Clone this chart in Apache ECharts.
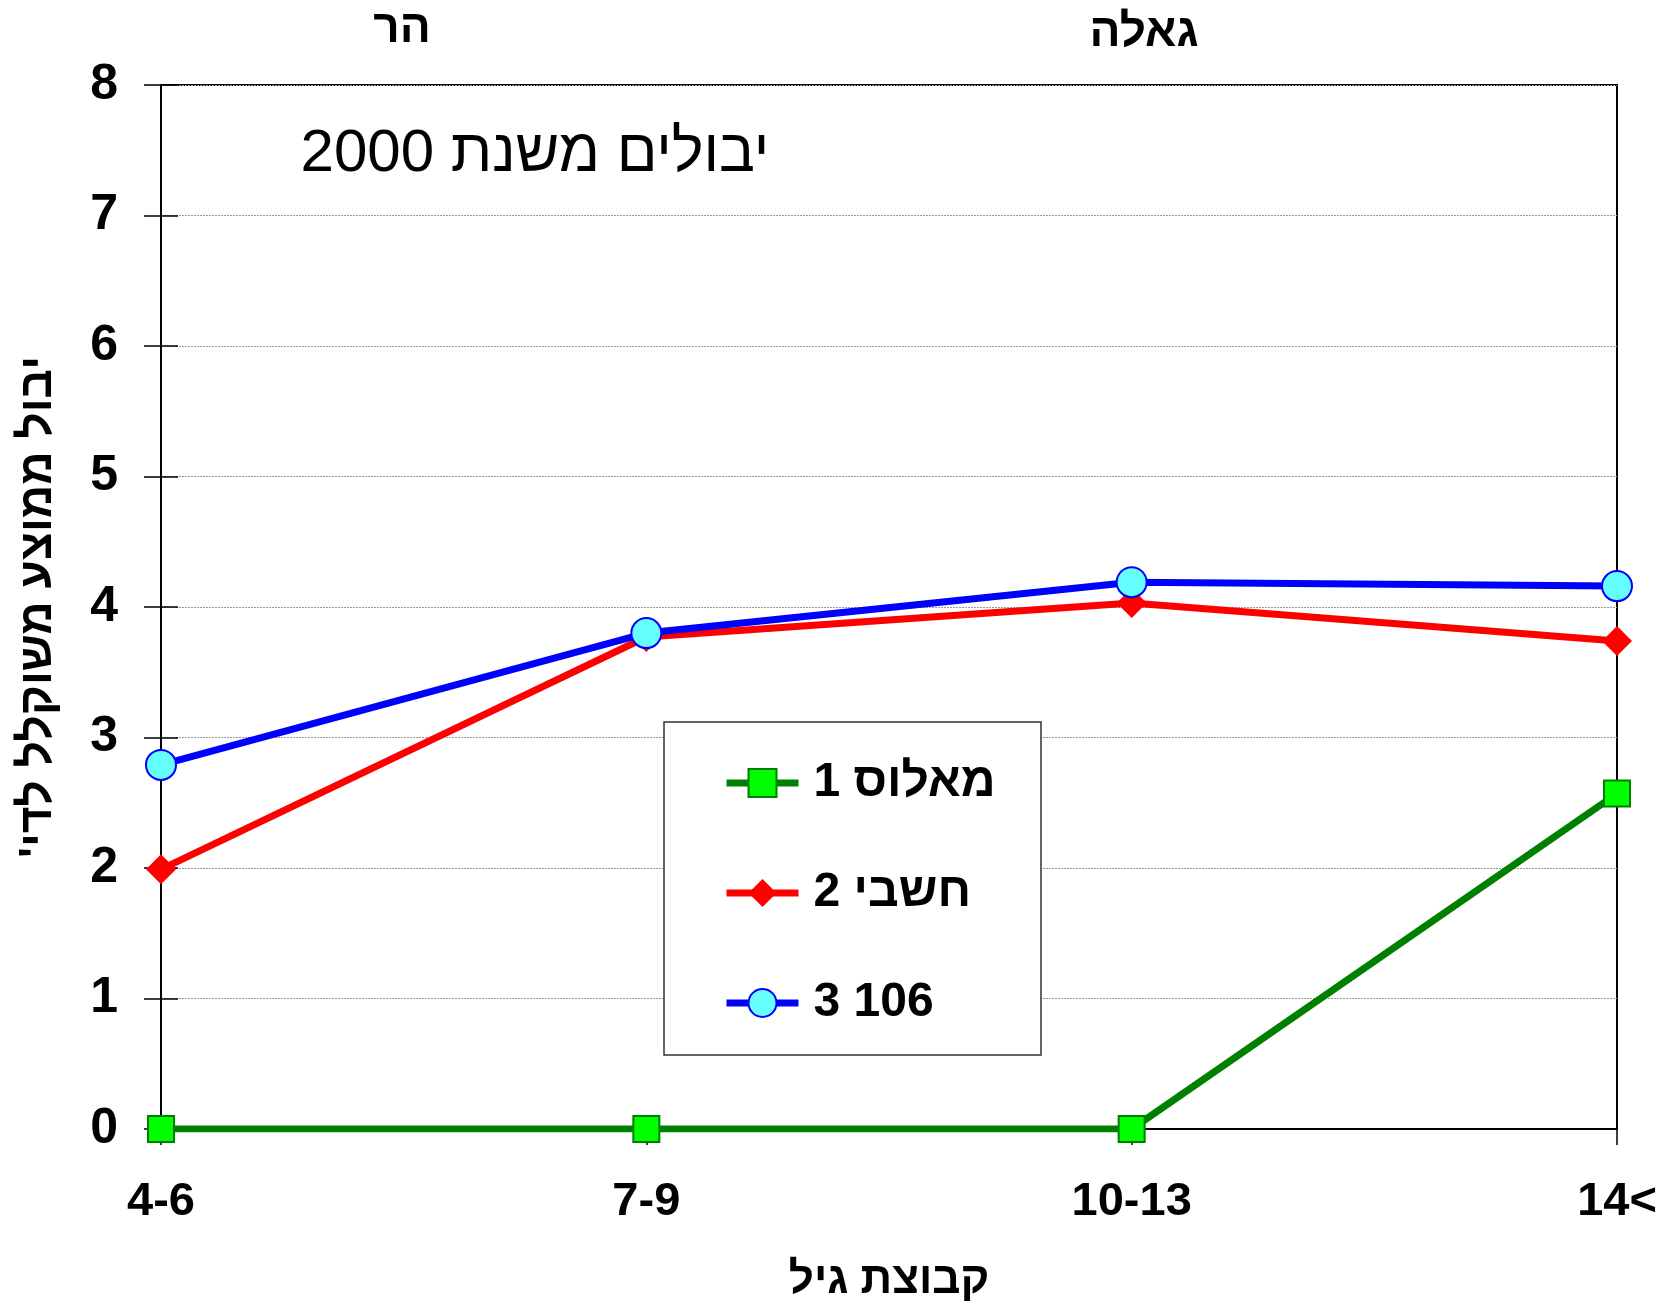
<!DOCTYPE html>
<html>
<head>
<meta charset="utf-8">
<title>יבולים משנת 2000</title>
<style>
  html, body { margin: 0; padding: 0; background: #fff; }
  #chart { width: 1669px; height: 1307px; }
</style>
</head>
<body>
<div id="chart"></div>
<script src="https://cdn.jsdelivr.net/npm/echarts@6/dist/echarts.min.js"></script>
<script>
  // age groups on the x axis
  var ageGroups = ['4-6', '7-9', '10-13', '14<'];
  // mean weighted yield per dunam
  var malosValues = [0, 0, 0, 2.57];
  var hashbiValues = [1.99, 3.77, 4.03, 3.74];
  var v106Values = [2.79, 3.80, 4.19, 4.16];
  var seriesNames = ['מאלוס 1', 'חשבי 2', '3 106'];

  var fontFam = "'Liberation Sans', Arial, 'DejaVu Sans', sans-serif";

  var myChart = echarts.init(document.getElementById('chart'));
  var option = {
    backgroundColor: '#fff',
    animation: false,
    textStyle: { fontFamily: fontFam },
    grid: {
      left: 161, right: 52, top: 85, bottom: 178,
      outerBoundsMode: 'none',
      show: true, borderColor: '#000', borderWidth: 2, backgroundColor: 'transparent'
    },
    legend: {
      orient: 'vertical',
      left: 723,
      top: 759,
      padding: 0,
      z: 10,
      itemWidth: 72,
      itemHeight: 35,
      itemGap: 62,
      data: seriesNames,
      lineStyle: { width: 7 },
      textStyle: {
        fontFamily: fontFam, fontSize: 48, fontWeight: 'bold', color: '#000',
        padding: [0, 0, 0, 10]
      }
    },
    xAxis: {
      type: 'category',
      data: ageGroups,
      boundaryGap: false,
      name: 'קבוצת גיל',
      nameLocation: 'middle',
      nameGap: 130,
      nameTextStyle: { fontFamily: fontFam, fontSize: 44, fontWeight: 'bold', color: '#000' },
      axisLine: { lineStyle: { color: '#000', width: 2 } },
      axisTick: { length: 16, lineStyle: { color: '#000', width: 1.5 } },
      axisLabel: { margin: 50, fontFamily: fontFam, fontSize: 47, fontWeight: 'bold', color: '#000' },
      splitLine: { show: false }
    },
    yAxis: [
      {
        type: 'value',
        position: 'left',
        min: 0,
        max: 8,
        interval: 1,
        name: 'יבול ממוצע משוקלל לדי\'\u200F',
        nameLocation: 'middle',
        nameRotate: 90,
        nameGap: 100,
        nameTextStyle: { fontFamily: fontFam, fontSize: 46, fontWeight: 'bold', color: '#000' },
        axisLine: { show: true, lineStyle: { color: '#000', width: 2 } },
        axisTick: { show: true, length: 17, lineStyle: { color: '#000', width: 1.5 } },
        axisLabel: { margin: 43, fontFamily: fontFam, fontSize: 50, fontWeight: 'bold', color: '#000' },
        splitLine: { lineStyle: { color: '#999', width: 1, type: [2, 1] } }
      },
      {
        // inner half of the crossing ticks
        type: 'value',
        position: 'left',
        min: 0,
        max: 8,
        interval: 1,
        axisLine: { show: false },
        axisTick: { show: true, inside: true, length: 17, lineStyle: { color: '#000', width: 1.5 } },
        axisLabel: { show: false },
        splitLine: { show: false }
      }
    ],
    graphic: [
      {
        type: 'rect', z: 3,
        shape: { x: 664, y: 722, width: 377, height: 333 },
        style: { fill: '#fff', stroke: '#333', lineWidth: 1.5 }
      },
      {
        type: 'text', x: 535, y: 154, z: 5,
        style: { text: 'יבולים משנת 2000', font: 'normal 60px ' + fontFam, fill: '#000', textAlign: 'center', textVerticalAlign: 'middle' }
      },
      {
        type: 'text', x: 402, y: 29, z: 5,
        style: { text: 'הר', font: 'bold 46px ' + fontFam, fill: '#000', textAlign: 'center', textVerticalAlign: 'middle' }
      },
      {
        type: 'text', x: 1144, y: 33, z: 5,
        style: { text: 'גאלה', font: 'bold 46px ' + fontFam, fill: '#000', textAlign: 'center', textVerticalAlign: 'middle' }
      }
    ],
    series: [
      {
        name: seriesNames[0],
        type: 'line',
        data: malosValues,
        symbol: 'rect',
        symbolSize: 26,
        lineStyle: { color: '#008000', width: 7 },
        itemStyle: { color: '#00ff00', borderColor: '#008000', borderWidth: 2 }
      },
      {
        name: seriesNames[1],
        type: 'line',
        data: hashbiValues,
        symbol: 'diamond',
        symbolSize: 30,
        lineStyle: { color: '#ff0000', width: 7 },
        itemStyle: { color: '#ff0000' }
      },
      {
        name: seriesNames[2],
        type: 'line',
        data: v106Values,
        symbol: 'circle',
        symbolSize: 30,
        lineStyle: { color: '#0000ff', width: 7 },
        itemStyle: { color: '#66ffff', borderColor: '#0000ff', borderWidth: 2 }
      }
    ]
  };
  myChart.setOption(option);
</script>
</body>
</html>
